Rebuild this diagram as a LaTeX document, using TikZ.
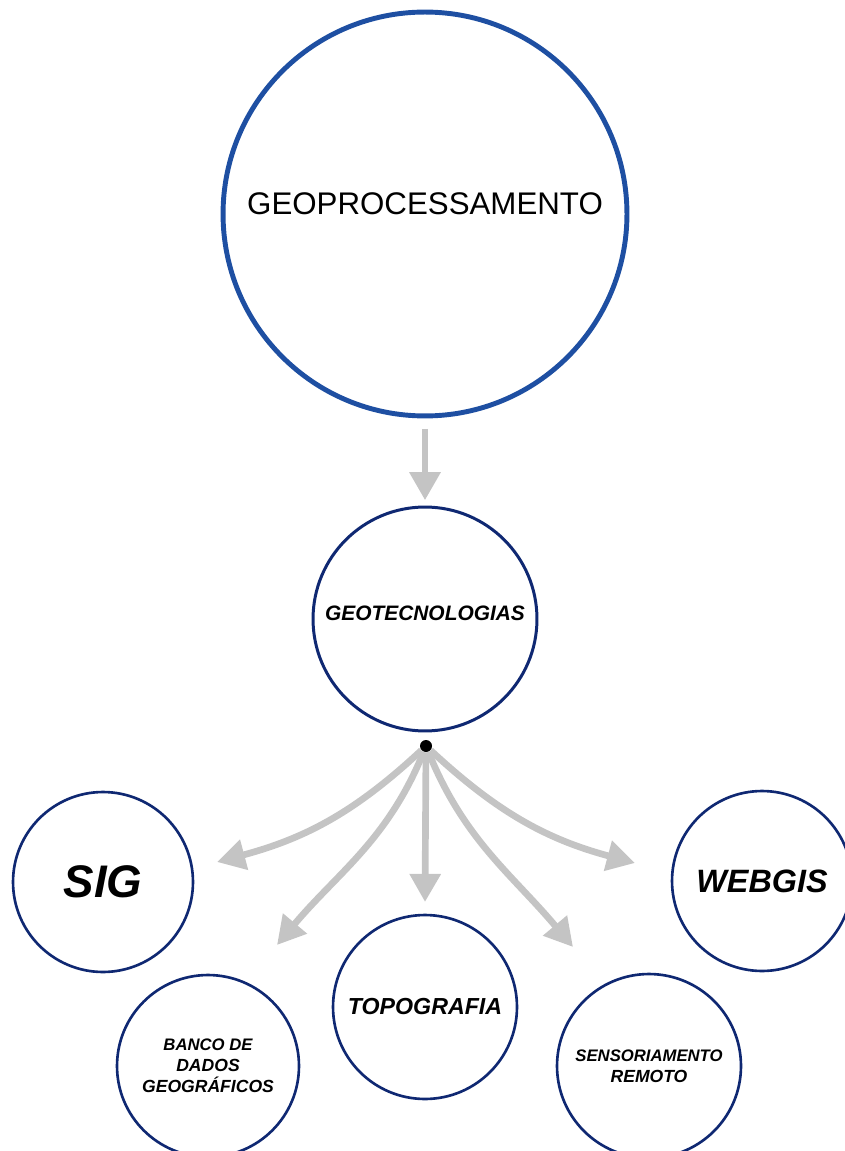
\documentclass[tikz,border=0pt]{standalone}
\usepackage{fontspec}
\setmainfont{Liberation Sans}
\usepackage{tikz}
\usetikzlibrary{arrows.meta}
\definecolor{geoblue}{HTML}{1E4FA2}
\definecolor{geonavy}{HTML}{0F2872}
\definecolor{setagray}{HTML}{C4C4C4}

\begin{document}
\begin{tikzpicture}[
  x=0.02cm, y=-0.02cm,
  bubble/.style={circle, draw=geonavy, line width=1.5pt, fill=white, inner sep=0pt, align=center, font=\bfseries\itshape},
  seta/.style={-{Triangle[length=16pt, width=17pt]}, draw=setagray, line width=3.8pt}
]
\useasboundingbox (0,0) rectangle (844,1151);
\node[circle, draw=geoblue, line width=2.8pt, minimum size=8.08cm, inner sep=0pt,
  label={[font=\fontsize{17.8}{20}\selectfont, yshift=6pt]center:GEOPROCESSAMENTO}] (geoproc) at (425,214) {};
\node[bubble, line width=1.7pt, minimum size=4.48cm, text height=2pt] (geotec) at (425,619) {\fontsize{11.9}{14}\selectfont GEOTECNOLOGIAS};
\node[circle, fill=black, inner sep=0pt, minimum size=0.24cm] (hub) at (426,746) {};
\node[bubble, minimum size=3.6cm] (sig) at (103,882) {\fontsize{26}{30}\selectfont SIG};
\node[bubble, minimum size=3.6cm] (webgis) at (762,881) {\fontsize{18.4}{22}\selectfont WEBGIS};
\node[bubble, minimum size=3.68cm] (topo) at (425,1007) {\fontsize{13.2}{16}\selectfont TOPOGRAFIA};
\node[bubble, minimum size=3.64cm] (banco) at (208,1066) {\fontsize{9.5}{10.8}\selectfont BANCO DE\\DADOS\\GEOGRÁFICOS};
\node[bubble, minimum size=3.68cm] (sens) at (649,1066) {\fontsize{9.5}{10.8}\selectfont SENSORIAMENTO\\REMOTO};
\coordinate (tipsig) at (217,862);
\coordinate (tipbanco) at (277,945);
\coordinate (tiptopo) at (425,902);
\coordinate (tipsens) at (573,947);
\coordinate (tipweb) at (635,863);
\draw[seta, shorten <=6pt, shorten >=3pt] (geoproc) -- (geotec);
\draw[seta] (hub) to[out=-137, in=15] (tipsig);
\draw[seta] (hub) to[out=-112, in=50] (tipbanco);
\draw[seta] (hub) -- (tiptopo);
\draw[seta] (hub) to[out=-68, in=130] (tipsens);
\draw[seta] (hub) to[out=-43, in=165] (tipweb);
\end{tikzpicture}
\end{document}
